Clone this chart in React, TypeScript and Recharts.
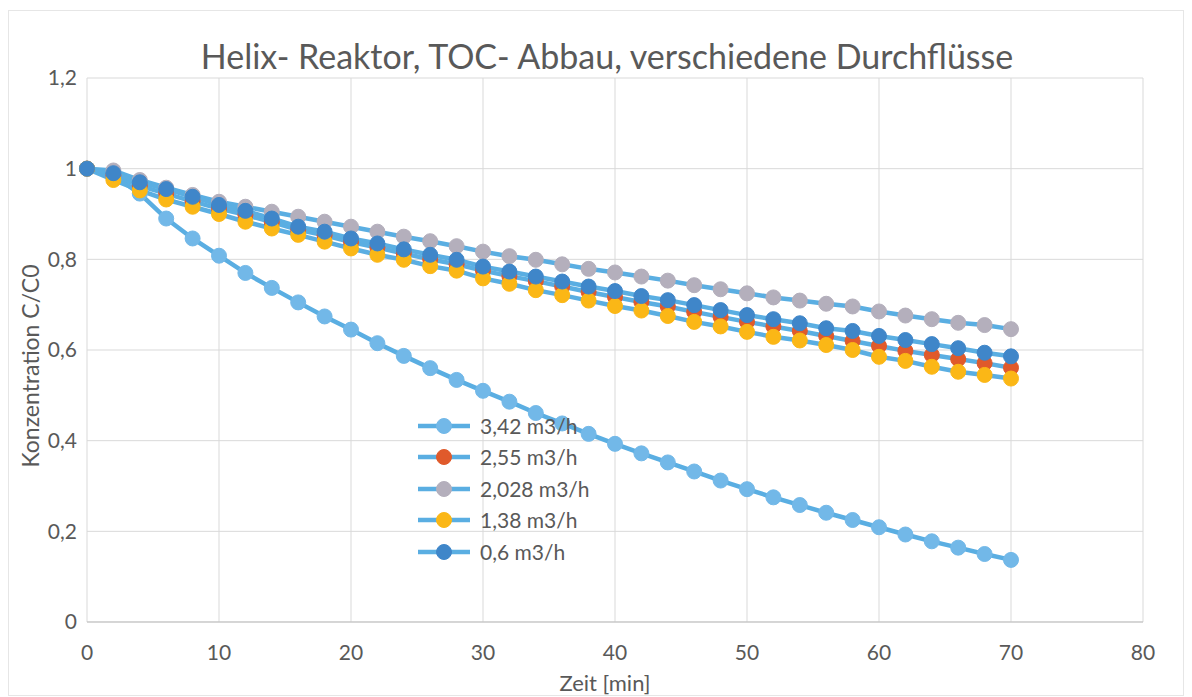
import React from 'react';
import { LineChart, Line, XAxis, YAxis, CartesianGrid, Legend } from 'recharts';

const times = [0, 2, 4, 6, 8, 10, 12, 14, 16, 18, 20, 22, 24, 26, 28, 30, 32, 34, 36, 38, 40, 42, 44, 46, 48, 50, 52, 54, 56, 58, 60, 62, 64, 66, 68, 70];

const flow342 = [1, 0.985, 0.945, 0.89, 0.846, 0.808, 0.77, 0.737, 0.705, 0.674, 0.645, 0.615, 0.587, 0.56, 0.534, 0.51, 0.486, 0.461, 0.438, 0.415, 0.393, 0.372, 0.352, 0.332, 0.312, 0.293, 0.275, 0.258, 0.241, 0.225, 0.209, 0.193, 0.178, 0.164, 0.15, 0.137];
const flow255 = [1, 0.985, 0.962, 0.945, 0.928, 0.912, 0.898, 0.882, 0.865, 0.853, 0.838, 0.826, 0.813, 0.8, 0.789, 0.775, 0.763, 0.752, 0.74, 0.728, 0.717, 0.706, 0.696, 0.684, 0.673, 0.662, 0.652, 0.642, 0.631, 0.62, 0.609, 0.598, 0.589, 0.58, 0.571, 0.561];
const flow2028 = [1, 0.996, 0.975, 0.958, 0.942, 0.927, 0.916, 0.905, 0.894, 0.883, 0.872, 0.861, 0.85, 0.84, 0.829, 0.817, 0.807, 0.799, 0.789, 0.779, 0.771, 0.762, 0.753, 0.743, 0.734, 0.725, 0.716, 0.709, 0.702, 0.696, 0.685, 0.676, 0.668, 0.66, 0.655, 0.646];
const flow138 = [1, 0.975, 0.952, 0.932, 0.916, 0.9, 0.883, 0.868, 0.854, 0.839, 0.824, 0.81, 0.799, 0.785, 0.775, 0.758, 0.746, 0.732, 0.721, 0.709, 0.697, 0.687, 0.675, 0.662, 0.652, 0.64, 0.629, 0.621, 0.611, 0.6, 0.585, 0.576, 0.563, 0.552, 0.545, 0.537];
const flow06 = [1, 0.99, 0.97, 0.955, 0.938, 0.92, 0.907, 0.89, 0.872, 0.861, 0.846, 0.835, 0.822, 0.81, 0.799, 0.784, 0.773, 0.762, 0.751, 0.74, 0.73, 0.719, 0.71, 0.699, 0.688, 0.677, 0.668, 0.659, 0.648, 0.642, 0.631, 0.622, 0.613, 0.604, 0.594, 0.586];

const seriesNames = ['3,42 m3/h', '2,55 m3/h', '2,028 m3/h', '1,38 m3/h', '0,6 m3/h'];
const seriesKeys = ['f342', 'f255', 'f2028', 'f138', 'f06'];
const seriesValues = [flow342, flow255, flow2028, flow138, flow06];
const markerColors = ['#72b8e8', '#e05a2b', '#b4afbc', '#fbb716', '#3f86c9'];

const xTicks = [0, 10, 20, 30, 40, 50, 60, 70, 80];
const yTicks = [0, 0.2, 0.4, 0.6, 0.8, 1, 1.2];

const title = 'Helix- Reaktor, TOC- Abbau, verschiedene Durchflüsse';
const xTitle = 'Zeit [min]';
const yTitle = 'Konzentration C/C0';

const data = times.map((t, i) => {
  const row: Record<string, number> = { t };
  seriesKeys.forEach((k, s) => {
    row[k] = seriesValues[s][i];
  });
  return row;
});

const LINE_COLOR = '#5aaee2';
const FONT = 'Lato, "Open Sans", sans-serif';
const TEXT_COLOR = '#595959';
const W = 1176;
const H = 689;

const fmt = (v: number) => String(v).replace('.', ',');

const LegendContent = () => (
  <div style={{ fontFamily: FONT, fontSize: 21, color: TEXT_COLOR }}>
    {seriesNames.map((name, i) => (
      <div key={name} style={{ display: 'flex', alignItems: 'center', height: 31.5 }}>
        <svg width={64} height={20} style={{ display: 'block' }}>
          <line x1={2} y1={10} x2={54} y2={10} stroke={LINE_COLOR} strokeWidth={4.5} />
          <circle cx={28} cy={10} r={7.5} fill={markerColors[i]} stroke={markerColors[i]} />
        </svg>
        <span style={{ lineHeight: '20px' }}>{name}</span>
      </div>
    ))}
  </div>
);

export default function App() {
  return (
    <div style={{ position: 'relative', width: W, height: H, background: '#fff' }}>
      <svg width={W} height={H} style={{ position: 'absolute', left: 0, top: 0 }}>
        <rect x={0.5} y={2.5} width={W - 1} height={H - 4} fill="none" stroke="#e6e6e6" />
      </svg>
      <LineChart
        width={W}
        height={H}
        data={data}
        margin={{ top: 70, right: 41, bottom: 45, left: 19 }}
        style={{ position: 'absolute', left: 0, top: 0 }}
      >
        <CartesianGrid stroke="#d9d9d9" strokeWidth={1} />
        <XAxis
          dataKey="t"
          type="number"
          domain={[0, 80]}
          ticks={xTicks}
          tickLine={false}
          axisLine={{ stroke: '#bfbfbf' }}
          tickMargin={17}
          height={30}
          tick={{ fill: TEXT_COLOR, fontSize: 21, fontFamily: FONT }}
        />
        <YAxis
          type="number"
          domain={[0, 1.2]}
          ticks={yTicks}
          tickFormatter={fmt}
          tickLine={false}
          axisLine={false}
          tickMargin={4}
          width={60}
          tick={{ fill: TEXT_COLOR, fontSize: 21, fontFamily: FONT }}
        />
        {seriesKeys.map((k, i) => (
          <Line
            key={k}
            dataKey={k}
            name={seriesNames[i]}
            stroke={LINE_COLOR}
            strokeWidth={4.5}
            dot={{ r: 7.5, fill: markerColors[i], stroke: markerColors[i], strokeWidth: 1 }}
            activeDot={false}
            isAnimationActive={false}
          />
        ))}
        <Legend
          layout="vertical"
          align="center"
          verticalAlign="middle"
          content={<LegendContent />}
          wrapperStyle={{ position: 'absolute', left: 408, top: 402, width: 220 }}
        />
      </LineChart>
      <svg width={W} height={H} style={{ position: 'absolute', left: 0, top: 0, pointerEvents: 'none' }}>
        <text x={599} y={61} textAnchor="middle" fontFamily={FONT} fontSize={34} fill={TEXT_COLOR}>
          {title}
        </text>
        <text x={597} y={683} textAnchor="middle" fontFamily={FONT} fontSize={22} fill={TEXT_COLOR}>
          {xTitle}
        </text>
        <text
          x={0}
          y={0}
          transform="translate(22,358) rotate(-90)"
          textAnchor="middle"
          dominantBaseline="central"
          fontFamily={FONT}
          fontSize={23}
          fill={TEXT_COLOR}
        >
          {yTitle}
        </text>
      </svg>
    </div>
  );
}
